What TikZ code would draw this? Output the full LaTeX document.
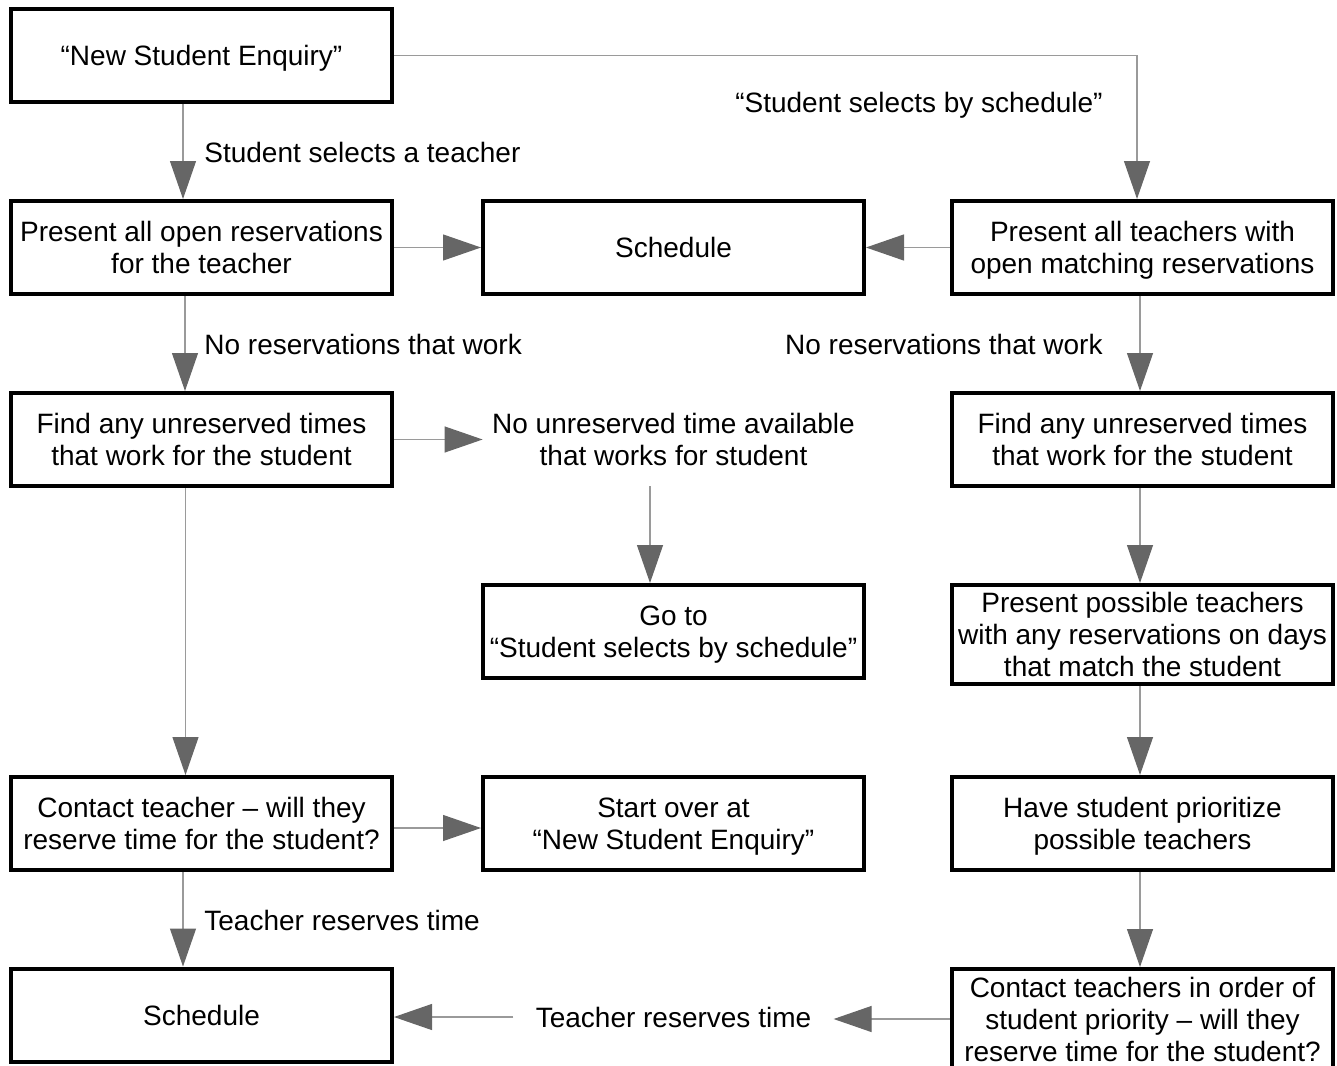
\documentclass[tikz,border=0pt]{standalone}
\usepackage{fontspec}
\setmainfont{Liberation Sans}
\usetikzlibrary{arrows.meta}
\definecolor{linegray}{HTML}{9A9A9A}
\definecolor{tipgray}{HTML}{666666}
\begin{document}
\begin{tikzpicture}[x=.5pt,y=-.5pt,font=\fontsize{14}{16}\selectfont,
       box/.style={draw,line width=2pt,minimum width=190.5pt,minimum height=46.5pt,inner sep=0pt,align=center,text depth=0pt},
       txt/.style={minimum width=190.5pt,minimum height=46.5pt,inner sep=0pt,align=center,text depth=0pt},
       lbl/.style={inner sep=0pt,text depth=0pt},
       conn/.style={draw=linegray,line width=.6pt,-{Triangle[length=19pt,width=13pt,color=tipgray]}}]
       \useasboundingbox (0,0) rectangle (1337,1065);

       \node (enq) at (201.5,55.5) [box]{“New Student Enquiry”};
       \node (pall) at (201.5,247.5) [box]{Present all open reservations\\for the teacher};
       \node (sch1) at (673.5,247.5) [box]{Schedule};
       \node (ptch) at (1142.5,247.5) [box]{Present all teachers with\\open matching reservations};
       \node (fndl) at (201.5,439.5) [box]{Find any unreserved times\\that work for the student};
       \node (nout) at (673.5,439.5) [txt]{No unreserved time available\\that works for student};
       \node (fndr) at (1142.5,439.5) [box]{Find any unreserved times\\that work for the student};
       \node (goto) at (673.5,631.5) [box]{Go to\\“Student selects by schedule”};
       \node (poss) at (1142.5,634.5) [box,minimum height=49.5pt]{Present possible teachers\\with any reservations on days\\that match the student};
       \node (ctch) at (201.5,823.5) [box]{Contact teacher – will they\\reserve time for the student?};
       \node (strt) at (673.5,823.5) [box]{Start over at\\“New Student Enquiry”};
       \node (prio) at (1142.5,823.5) [box]{Have student prioritize\\possible teachers};
       \node (sch2) at (201.5,1015) [box]{Schedule};
       \node (cntr) at (1142.5,1019) [box,minimum height=50pt]{Contact teachers in order of\\student priority – will they\\reserve time for the student?};
       \node (trt) at (673.5,1017) [lbl,inner xsep=11pt]{Teacher reserves time};

       \node (lsel) at (204,152) [lbl,anchor=west]{Student selects a teacher};
       \node (lsch) at (1103,102) [lbl,anchor=east]{“Student selects by schedule”};
       \node (lnol) at (204,344) [lbl,anchor=west]{No reservations that work};
       \node (lnor) at (1103,344) [lbl,anchor=east]{No reservations that work};
       \node (lres) at (204,920) [lbl,anchor=west]{Teacher reserves time};

       \draw[conn] ([xshift=-9.25pt]enq.south) -- ([xshift=-9.25pt]pall.north);
       \draw[conn] (enq.east) -| ([xshift=-2.75pt]ptch.north);
       \draw[conn] (pall) -- (sch1);
       \draw[conn] (ptch) -- (sch1);
       \draw[conn] ([xshift=-8.25pt]pall.south) -- ([xshift=-8.25pt]fndl.north);
       \draw[conn] (fndl) -- (nout);
       \draw[conn] ([xshift=-11.75pt]nout.south) -- ([xshift=-11.75pt]goto.north);
       \draw[conn] ([xshift=-8pt]fndl.south) -- ([xshift=-8pt]ctch.north);
       \draw[conn] ([yshift=-2.25pt]ctch.east) -- ([yshift=-2.25pt]strt.west);
       \draw[conn] ([xshift=-9.25pt]ctch.south) -- ([xshift=-9.25pt]sch2.north);

       \foreach \a/\b in {ptch/fndr,fndr/poss,poss/prio,prio/cntr}
       {
           \draw[conn] ([xshift=-1.25pt]\a.south) -- ([xshift=-1.25pt]\b.north);
       }

       \draw[conn] (cntr.west) -- (cntr.west -| trt.east);
       \draw[conn] (trt.west) -- (trt.west -| sch2.east);
\end{tikzpicture}
\end{document}
